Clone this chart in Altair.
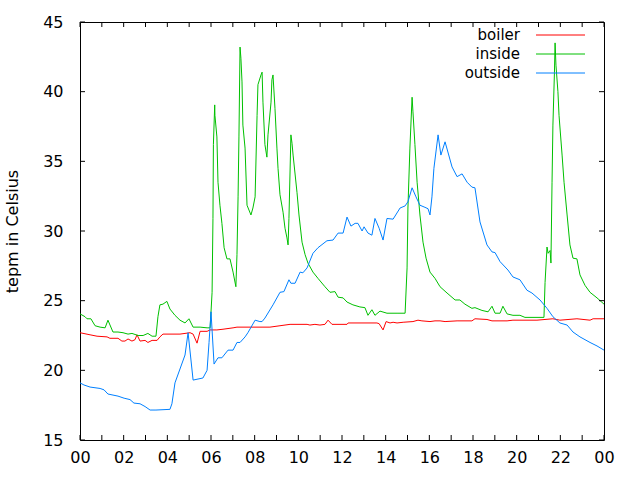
import altair as alt
import pandas as pd

# ---- data (hour of day, temperature in Celsius) ----
outside_h = [0.00, 0.18, 0.46, 0.92, 1.10, 1.28, 1.74, 2.02, 2.29, 2.47, 2.75, 2.98, 3.21, 3.48, 4.12,
             4.21, 4.35, 4.81, 4.95, 5.18, 5.63, 5.82, 5.91, 6.00, 6.14, 6.32, 6.50, 6.78, 7.01, 7.19,
             7.33, 7.56, 7.69, 8.02, 8.24, 8.34, 8.47, 8.84, 9.16, 9.34, 9.57, 9.66, 9.85, 10.08, 10.21,
             10.40, 10.67, 10.90, 11.31, 11.59, 11.82, 12.05, 12.23, 12.41, 12.60, 12.73, 12.92, 13.01,
             13.19, 13.37, 13.51, 13.70, 13.88, 14.06, 14.34, 14.66, 14.89, 15.02, 15.21, 15.39, 15.57,
             15.80, 15.94, 16.03, 16.12, 16.21, 16.40, 16.53, 16.72, 17.04, 17.27, 17.50, 17.73, 17.95,
             18.09, 18.32, 18.64, 18.87, 19.01, 19.24, 19.60, 19.83, 20.15, 20.47, 20.70, 21.07, 21.39,
             21.66, 21.98, 22.31, 22.58, 22.90, 23.36, 23.68, 24.00]
outside_v = [19.1, 18.95, 18.8, 18.7, 18.6, 18.3, 18.15, 18.0, 17.9, 17.65, 17.6, 17.4, 17.15, 17.15, 17.2,
             17.6, 19.1, 21.1, 22.7, 19.3, 19.45, 20.0, 22.0, 24.2, 20.45, 20.9, 20.9, 21.45, 21.45, 22.0,
             22.0, 22.4, 22.7, 23.6, 23.5, 23.5, 23.75, 24.7, 25.6, 25.65, 26.5, 26.25, 26.25, 27.05, 27.0,
             27.35, 28.4, 28.8, 29.3, 29.35, 29.85, 29.85, 31.0, 30.35, 30.55, 30.55, 30.0, 30.3,
             29.85, 29.7, 30.9, 30.2, 29.35, 30.9, 30.85, 31.65, 31.8, 32.1, 33.1, 32.45, 31.85,
             31.7, 31.6, 31.15, 32.45, 34.5, 36.9, 35.45, 36.4, 34.6, 33.9, 34.1, 33.5, 33.15,
             33.1, 30.65, 29.0, 28.5, 28.45, 27.8, 27.2, 26.7, 26.5, 25.75, 25.55, 25.05, 24.45,
             23.85, 23.4, 23.25, 22.75, 22.4, 22.0, 21.75, 21.45]

inside_h = [0.00, 0.23, 0.32, 0.50, 0.69, 0.92, 1.15, 1.28, 1.51, 1.74, 1.97, 2.20, 2.38, 2.66, 2.89,
            3.11, 3.30, 3.48, 3.57, 3.66, 3.80, 3.98, 4.12, 4.35, 4.58, 4.81, 4.99, 5.18, 5.50, 5.82,
            5.96, 6.05, 6.09, 6.11, 6.17, 6.18, 6.27, 6.32, 6.41, 6.50, 6.60, 6.73, 6.87, 7.01, 7.14,
            7.19, 7.24, 7.28, 7.33, 7.37, 7.42, 7.46, 7.56, 7.65, 7.83, 7.92, 8.02, 8.11, 8.15, 8.29,
            8.34, 8.38, 8.47, 8.56, 8.61, 8.75, 8.79, 8.84, 8.93, 9.02, 9.07, 9.16, 9.30, 9.39, 9.48,
            9.53, 9.57, 9.66, 9.71, 9.76, 9.94, 10.03, 10.17, 10.31, 10.44, 10.67, 10.90, 11.22, 11.45,
            11.68, 11.82, 12.05, 12.23, 12.50, 12.82, 13.05, 13.19, 13.37, 13.51, 13.74, 14.06, 14.52,
            14.89, 14.98, 15.02, 15.11, 15.21, 15.25, 15.34, 15.44, 15.57, 15.71, 15.85, 16.03, 16.26,
            16.49, 16.81, 17.18, 17.40, 17.63, 17.95, 18.09, 18.41, 18.69, 18.87, 19.01, 19.24, 19.37,
            19.56, 19.83, 20.15, 20.38, 21.25, 21.30, 21.39, 21.44, 21.53, 21.57, 21.62, 21.66, 21.73,
            21.76, 21.80, 21.89, 21.94, 22.08, 22.17, 22.31, 22.44, 22.58, 22.76, 22.90, 23.13, 23.36,
            23.68, 24.00]
inside_v = [24.05, 23.85, 23.7, 23.7, 23.2, 23.1, 23.05, 23.6, 22.75, 22.75, 22.7, 22.6, 22.65, 22.5, 22.5,
            22.65, 22.45, 22.45, 23.85, 24.7, 24.75, 24.95, 24.4, 23.95, 23.6, 23.4, 23.7, 23.1, 23.1, 23.05,
            23.05, 25.6, 30.9, 36.2, 39.05, 38.3, 36.75, 33.5, 31.85, 30.55, 28.8, 28.0, 28.0, 27.05, 26.0,
            28.3, 32.45, 36.75, 43.2, 42.4, 40.7, 37.6, 35.95, 31.85, 31.15, 31.65, 32.45, 38.3, 40.5, 41.2,
            41.4, 39.25, 36.2, 35.3, 36.9, 39.25, 40.85, 41.2, 38.8, 35.95, 34.5, 32.6, 31.35, 30.2, 29.5,
            29.0, 30.9, 36.9, 36.3, 35.45, 32.75, 31.15, 29.2, 28.3, 27.7, 27.05, 26.6, 26.0, 25.6,
            25.65, 25.25, 25.2, 24.9, 24.7, 24.55, 24.5, 23.95, 24.35, 23.95, 24.25, 24.1, 24.1,
            24.1, 27.35, 31.65, 35.95, 39.6, 38.55, 36.2, 33.5, 31.15, 29.2, 28.05, 27.05, 26.6,
            26.0, 25.55, 25.05, 25.05, 24.75, 24.45, 24.5, 24.3, 24.2, 24.6, 24.1, 24.1, 24.6,
            24.05, 23.95, 23.95, 23.8, 23.8, 26.3, 28.85, 28.4, 28.6, 27.7, 33.5, 37.6, 41.4,
            43.5, 41.9, 40.0, 38.3, 35.45, 33.5, 31.15, 29.0, 28.05, 28.0, 26.85, 26.1, 25.6,
            25.2, 24.75]

boiler_h = [0.00, 0.46, 0.78, 1.24, 1.37, 1.74, 1.92, 2.06, 2.20, 2.38, 2.52, 2.61, 2.75, 2.98, 3.11,
            3.30, 3.53, 3.66, 3.80, 4.58, 5.04, 5.18, 5.36, 5.50, 5.82, 5.96, 6.27, 6.55, 7.01, 7.19,
            8.70, 9.16, 9.62, 10.40, 10.53, 10.76, 10.99, 11.22, 11.36, 11.54, 12.23, 12.28, 13.60, 13.70,
            13.88, 14.02, 14.20, 14.34, 14.52, 14.80, 15.25, 15.48, 15.66, 16.03, 16.26, 16.49, 16.72,
            17.27, 17.95, 18.09, 18.64, 18.87, 19.56, 19.83, 20.93, 21.66, 21.98, 22.76, 23.36, 23.50, 24.00]
boiler_v = [22.7, 22.55, 22.45, 22.4, 22.3, 22.3, 22.1, 22.1, 22.25, 22.1, 22.2, 22.55, 22.1, 22.15, 22.0,
            22.15, 22.15, 22.4, 22.6, 22.6, 22.7, 22.6, 21.95, 22.8, 22.8, 22.9, 22.9, 22.95, 23.05, 23.1,
            23.1, 23.2, 23.3, 23.3, 23.25, 23.3, 23.25, 23.3, 23.6, 23.3, 23.3, 23.4, 23.4, 23.35,
            22.9, 23.5, 23.4, 23.45, 23.4, 23.45, 23.5, 23.6, 23.55, 23.5, 23.55, 23.55, 23.5,
            23.55, 23.55, 23.7, 23.65, 23.55, 23.55, 23.6, 23.6, 23.7, 23.6, 23.7, 23.6, 23.7, 23.7]

series_names = ["boiler", "inside", "outside"]
series_colors = ["#ff0000", "#00c000", "#0080ff"]
x_ticks = list(range(0, 25))
x_label_ticks = list(range(0, 25, 2))
y_ticks = [15, 20, 25, 30, 35, 40, 45]

FONT = "DejaVu Sans"
W, H = 524, 418

xscale = alt.Scale(domain=[0, 24], nice=False, zero=False)
yscale = alt.Scale(domain=[15, 45], nice=False, zero=False)

xaxis = alt.Axis(values=x_label_ticks, labelExpr="(datum.value % 24 < 10 ? '0' : '') + (datum.value % 24)",
                 ticks=False, domain=False, grid=False, labelPadding=9, labelFontSize=16,
                 labelFont=FONT, labelColor="black", title=None, labelFlush=False)
yaxis = alt.Axis(values=y_ticks, ticks=False, domain=False, grid=False, labelPadding=17,
                 labelFontSize=16, labelFont=FONT, labelColor="black", title="tepm in Celsius",
                 titleFont=FONT, titleFontSize=16, titleFontWeight="normal", titleColor="black",
                 titlePadding=22, labelFlush=False)

data_sets = [
    pd.DataFrame({"hour": boiler_h, "temp": boiler_v}),
    pd.DataFrame({"hour": inside_h, "temp": inside_v}),
    pd.DataFrame({"hour": outside_h, "temp": outside_v}),
]

layers = []
for df, col in zip(data_sets, series_colors):
    layers.append(alt.Chart(df).mark_line(color=col, strokeWidth=1).encode(
        x=alt.X("hour:Q", scale=xscale, axis=xaxis),
        y=alt.Y("temp:Q", scale=yscale, axis=yaxis)))

xt = pd.DataFrame({"h": x_ticks})
yt = pd.DataFrame({"v": y_ticks})
TL = 5
tick_layers = [
    alt.Chart(xt).mark_rule(color="black", strokeWidth=1).encode(
        x=alt.X("h:Q", scale=xscale, axis=xaxis), y=alt.value(H), y2=alt.value(H - TL)),
    alt.Chart(xt).mark_rule(color="black", strokeWidth=1).encode(
        x=alt.X("h:Q", scale=xscale, axis=xaxis), y=alt.value(0), y2=alt.value(TL)),
    alt.Chart(yt).mark_rule(color="black", strokeWidth=1).encode(
        y=alt.Y("v:Q", scale=yscale, axis=yaxis), x=alt.value(0), x2=alt.value(TL)),
    alt.Chart(yt).mark_rule(color="black", strokeWidth=1).encode(
        y=alt.Y("v:Q", scale=yscale, axis=yaxis), x=alt.value(W), x2=alt.value(W - TL)),
]

legend_layers = []
for i, (name, col) in enumerate(zip(series_names, series_colors)):
    ly = 13 + 19 * i
    ldf = pd.DataFrame({"name": [name]})
    legend_layers.append(
        alt.Chart(ldf).mark_text(align="right", baseline="middle", font=FONT, fontSize=15,
                                 color="black").encode(
            x=alt.value(440), y=alt.value(ly), text="name:N"))
    legend_layers.append(
        alt.Chart(ldf).mark_rule(color=col, strokeWidth=1).encode(
            x=alt.value(456), x2=alt.value(505), y=alt.value(ly)))

chart = alt.layer(*layers, *tick_layers, *legend_layers).properties(
    width=W, height=H,
    autosize=alt.AutoSizeParams(type="none"),
    padding={"left": 80, "top": 22, "right": 36, "bottom": 40},
    background="white",
).configure_view(stroke="black", strokeWidth=1)

chart.save("out.html", embed_options={"renderer": "svg", "actions": False})
